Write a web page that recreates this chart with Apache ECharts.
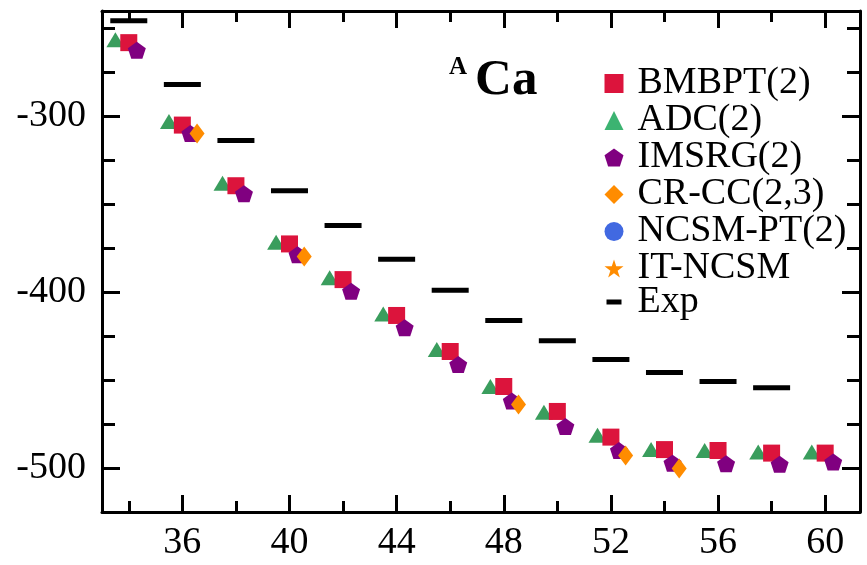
<!DOCTYPE html>
<html>
<head>
<meta charset="utf-8">
<script src="https://cdn.jsdelivr.net/npm/echarts@6/dist/echarts.min.js"></script>
<style>html,body{margin:0;padding:0;background:#fff}#c{width:867px;height:565px}</style>
</head>
<body>
<div id="c"></div>
<script>
// ---- data ----
const massNumbers = [34, 36, 38, 40, 42, 44, 46, 48, 50, 52, 54, 56, 58, 60];
const bmbpt = [-258, -304.9, -339.4, -372.5, -392.8, -413.2, -433.7, -453.6, -467.8, -482.4, -489.5, -490, -491.5, -491.5];
const adc   = [-256.4, -302.8, -338, -371.6, -391.8, -412.3, -432.6, -453.6, -468.2, -481.4, -489.5, -490, -490.9, -490.9];
const imsrg = [-262.3, -309.7, -344, -378.6, -399.4, -420.2, -441.1, -461.9, -476.3, -490, -497.2, -497.5, -497.9, -496.6];
const crccA = [36, 40, 48, 52, 54];
const crcc  = [-309.7, -379.7, -463.8, -492.8, -500.3];
const expA  = [34, 36, 38, 40, 42, 44, 46, 48, 50, 52, 54, 56, 58];
const exp   = [-245.6, -281.8, -313.6, -342.2, -362, -381.2, -398.9, -416.1, -427.6, -438.3, -445.6, -450.7, -454.3];
const xMajor = [36, 40, 44, 48, 52, 56, 60];
const xMinor = [34, 38, 42, 46, 50, 54, 58];
const yMajor = [-500, -400, -300];
const yMinor = [-475, -450, -425, -375, -350, -325, -275, -250];

// ---- styling ----
const FONT = 'Liberation Serif';
const pentagon = 'path://M0,-1 L0.951,-0.309 L0.588,0.809 L-0.588,0.809 L-0.951,-0.309 Z';
const star = 'path://M0,-1 L0.2245,-0.309 L0.951,-0.309 L0.363,0.118 L0.588,0.809 L0,0.382 L-0.588,0.809 L-0.363,0.118 L-0.951,-0.309 L-0.2245,-0.309 Z';
const dodge = {bm: 0, adc: -0.5, im: 0.3, cc: 0.55};
const pair = (xs, ys, off) => xs.map((a, i) => [a + off, ys[i]]);

const gridPos = {left: 102, right: 7, top: 11, bottom: 53};
const X0 = 33, X1 = 61.3, Y0 = -525, Y1 = -240;

function xAx(grid, pos, vals, len, showLine, showLabel) {
  return {
    type: 'value', gridIndex: grid, position: pos, min: X0, max: X1,
    splitLine: {show: false},
    axisLine: {show: showLine, onZero: false, lineStyle: {color: '#000', width: 3}},
    axisTick: {show: true, inside: true, length: len, customValues: vals, lineStyle: {color: '#000', width: 3}},
    axisLabel: {show: showLabel, customValues: vals, margin: 12, color: '#000', fontFamily: FONT, fontSize: 38}
  };
}
function yAx(grid, pos, vals, len, showLine, showLabel) {
  return {
    type: 'value', gridIndex: grid, position: pos, min: Y0, max: Y1,
    splitLine: {show: false},
    axisLine: {show: showLine, onZero: false, lineStyle: {color: '#000', width: 3}},
    axisTick: {show: true, inside: true, length: len, customValues: vals, lineStyle: {color: '#000', width: 3}},
    axisLabel: {show: showLabel, customValues: vals, margin: 16, color: '#000', fontFamily: FONT, fontSize: 38}
  };
}

const chart = echarts.init(document.getElementById('c'), null, {renderer: 'canvas'});
chart.setOption({
  animation: false,
  backgroundColor: '#fff',
  title: {
    left: 444, top: 50,
    text: '{a|A}{b|Ca}',
    textStyle: {
      rich: {
        a: {fontFamily: FONT, fontWeight: 'bold', fontSize: 25, color: '#000', verticalAlign: 'top', padding: [0, 8, 20, 0]},
        b: {fontFamily: FONT, fontWeight: 'bold', fontSize: 51, color: '#000'}
      }
    }
  },
  grid: [Object.assign({}, gridPos), Object.assign({}, gridPos)],
  xAxis: [
    xAx(0, 'bottom', xMajor, 17, true, true),
    xAx(0, 'top', xMajor, 17, true, false),
    xAx(1, 'bottom', xMinor, 11, false, false),
    xAx(1, 'top', xMinor, 11, false, false)
  ],
  yAxis: [
    yAx(0, 'left', yMajor, 18, true, true),
    yAx(0, 'right', yMajor, 18, true, false),
    yAx(1, 'left', yMinor, 13, false, false),
    yAx(1, 'right', yMinor, 13, false, false)
  ],
  legend: [
    {
      orient: 'vertical', left: 599.5, top: 59.5, itemGap: -1,
      itemWidth: 19, itemHeight: 19,
      textStyle: {fontFamily: FONT, fontSize: 38, color: '#000', lineHeight: 36.8, padding: [0, 0, 0, 9]},
      data: [
        {name: 'BMBPT(2)'},
        {name: 'ADC(2)', itemStyle: {color: '#3cb371'}},
        {name: 'IMSRG(2)'},
        {name: 'CR-CC(2,3)'},
        {name: 'NCSM-PT(2)'},
        {name: 'IT-NCSM'}
      ]
    },
    {
      orient: 'vertical', left: 601.5, top: 278, itemGap: 0,
      itemWidth: 15, itemHeight: 5,
      textStyle: {fontFamily: FONT, fontSize: 38, color: '#000', lineHeight: 36.8, padding: [0, 0, 0, 11]},
      data: [{name: 'Exp', icon: 'rect'}]
    }
  ],
  series: [
    {name: 'Exp', type: 'scatter', xAxisIndex: 0, yAxisIndex: 0, symbol: 'rect', symbolSize: [37, 5],
     itemStyle: {color: '#000', opacity: 1}, data: pair(expA, exp, 0), z: 2},
    {name: 'ADC(2)', type: 'scatter', xAxisIndex: 0, yAxisIndex: 0, symbol: 'triangle', symbolSize: [18, 15],
     itemStyle: {color: '#3a9d5d', opacity: 1}, data: pair(massNumbers, adc, dodge.adc), z: 3},
    {name: 'BMBPT(2)', type: 'scatter', xAxisIndex: 0, yAxisIndex: 0, symbol: 'rect', symbolSize: [17, 17],
     itemStyle: {color: '#dc143c', opacity: 1}, data: pair(massNumbers, bmbpt, dodge.bm), z: 4},
    {name: 'IMSRG(2)', type: 'scatter', xAxisIndex: 0, yAxisIndex: 0, symbol: pentagon, symbolSize: [18, 17],
     itemStyle: {color: '#800080', opacity: 1}, data: pair(massNumbers, imsrg, dodge.im), z: 5},
    {name: 'CR-CC(2,3)', type: 'scatter', xAxisIndex: 0, yAxisIndex: 0, symbol: 'diamond', symbolSize: [15, 20],
     itemStyle: {color: '#ff8c00', opacity: 1}, data: pair(crccA, crcc, dodge.cc), z: 6},
    {name: 'NCSM-PT(2)', type: 'scatter', xAxisIndex: 0, yAxisIndex: 0, symbol: 'circle', symbolSize: 18,
     itemStyle: {color: '#4169e1', opacity: 1}, data: [], z: 6},
    {name: 'IT-NCSM', type: 'scatter', xAxisIndex: 0, yAxisIndex: 0, symbol: star, symbolSize: 22,
     itemStyle: {color: '#ff8c00', opacity: 1}, data: [], z: 6}
  ]
});
</script>
</body>
</html>
